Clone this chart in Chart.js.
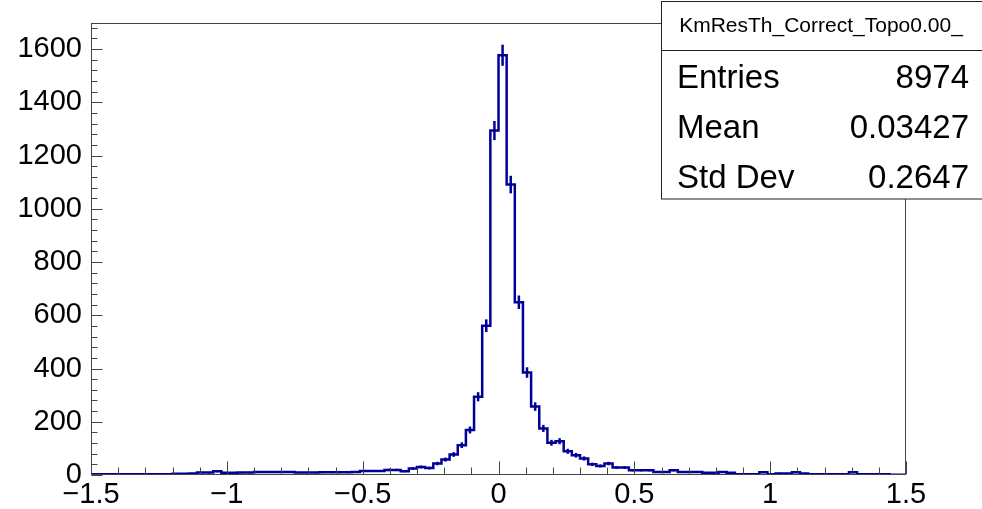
<!DOCTYPE html>
<html>
<head>
<meta charset="utf-8">
<script src="https://cdn.jsdelivr.net/npm/chart.js@4/dist/chart.umd.min.js"></script>
<style>
    html, body { margin: 0; padding: 0; background: #fff; }
    #wrap { width: 982px; height: 509px; }
</style>
</head>
<body>
<div id="wrap"><canvas id="chart"></canvas></div>
<script>
'use strict'
let xMin = -1.5,
    xMax = 1.5,
    binWidth = 0.03,
    yMax = 1698,
    // bin contents, 100 bins of 0.03 from -1.5 to 1.5
    counts = [
        3, 3, 3, 3, 3, 3, 3, 3, 3, 3,
        5, 5, 6, 9, 9, 14, 8, 8, 9, 9,
        11, 11, 11, 11, 11, 9, 9, 9, 10, 10,
        10, 10, 11, 15, 15, 15, 19, 19, 14, 24,
        30, 26, 43, 58, 77, 112, 169, 294, 561, 1294,
        1577, 1091, 649, 385, 257, 175, 121, 127, 89, 74,
        62, 40, 34, 43, 28, 28, 18, 18, 18, 11,
        11, 18, 11, 11, 11, 8, 8, 11, 8, 3,
        3, 3, 10, 3, 6, 6, 10, 6, 3, 3,
        3, 3, 3, 10, 3, 3, 3, 3, 1, 1],
    xTicks = [-1.5, -1, -0.5, 0, 0.5, 1, 1.5],
    xTickLabels = ['\u22121.5', '\u22121', '\u22120.5', '0', '0.5', '1', '1.5'],
    yTicks = [0, 200, 400, 600, 800, 1000, 1200, 1400, 1600],
    yTickLabels = ['0', '200', '400', '600', '800', '1000', '1200', '1400', '1600'],
    statsTitle = 'KmResTh_Correct_Topo0.00_',
    statsNames = ['Entries', 'Mean', 'Std Dev'],
    statsValues = ['8974', '0.03427', '0.2647']

const lineColor = '#000099'
const fontName = '"Liberation Sans", Arial, Helvetica, sans-serif'

// step points at bin edges, last point closes the final bin
let points = counts.map((c, i) => ({x: xMin + i * binWidth, y: c}))
points.push({x: xMax, y: counts[counts.length - 1]})

let rootStyle = {
    id: 'rootStyle',
    afterDatasetsDraw(chart) {
        let ctx = chart.ctx,
            xs = chart.scales.x,
            ys = chart.scales.y
        // error bars
        ctx.save()
        ctx.strokeStyle = lineColor
        ctx.lineWidth = 2.5
        counts.forEach((c, i) => {
            let xc = xs.getPixelForValue(xMin + (i + 0.5) * binWidth),
                err = Math.sqrt(c)
            ctx.beginPath()
            ctx.moveTo(xc, ys.getPixelForValue(c - err))
            ctx.lineTo(xc, ys.getPixelForValue(c + err))
            ctx.stroke()
        })
        ctx.restore()
    },
    afterDraw(chart) {
        let ctx = chart.ctx,
            a = chart.chartArea,
            xs = chart.scales.x,
            ys = chart.scales.y
        ctx.save()
        ctx.strokeStyle = '#444'
        ctx.lineWidth = 1
        let L = Math.round(a.left) + 0.5,
            R = Math.round(a.right) - 0.5,
            T = Math.round(a.top) + 0.5,
            B = Math.round(a.bottom) - 0.5
        ctx.strokeRect(L, T, R - L, B - T)
        // x ticks: major every 0.5, minor every 0.1
        ctx.beginPath()
        for (let k = 0; k <= 30; k++) {
            let v = xMin + k * 0.1,
                px = Math.round(xs.getPixelForValue(v)) + 0.5,
                len = k % 5 === 0 ? 13 : 7
            ctx.moveTo(px, B)
            ctx.lineTo(px, B - len)
        }
        // y ticks: major every 200, minor every 40
        for (let v = 0; v <= yMax; v += 40) {
            let py = Math.round(ys.getPixelForValue(v)) + 0.5,
                len = v % 200 === 0 ? 11 : 6
            ctx.moveTo(L, py)
            ctx.lineTo(L + len, py)
        }
        ctx.stroke()

        // stats box
        let bx = 661.5, by = 1.5, bw = 330, bh = 197.5
        ctx.fillStyle = '#fff'
        ctx.fillRect(bx, by, bw, bh)
        ctx.strokeStyle = '#222'
        ctx.strokeRect(bx, by, bw, bh)
        ctx.beginPath()
        ctx.moveTo(bx, 50.5)
        ctx.lineTo(bx + bw, 50.5)
        ctx.stroke()
        ctx.fillStyle = '#000'
        ctx.textBaseline = 'alphabetic'
        ctx.font = '21px ' + fontName
        ctx.textAlign = 'center'
        ctx.fillText(statsTitle, 821, 32)
        ctx.font = '33px ' + fontName
        statsNames.forEach((name, i) => {
            let base = 88 + i * 50
            ctx.textAlign = 'left'
            ctx.fillText(name, 677, base)
            ctx.textAlign = 'right'
            ctx.fillText(statsValues[i], 969, base)
        })
        ctx.restore()
    }
}

let data = {
    datasets: [{
        label: 'KmResTh_Correct_Topo0.00_',
        data: points,
        stepped: 'before',
        borderColor: lineColor,
        borderWidth: 2.5,
        pointRadius: 0,
        fill: false
    }]
}

let config = {
    type: 'line',
    data: data,
    options: {
        responsive: false,
        animation: false,
        layout: {padding: {top: 23, right: 76, left: 0, bottom: 0}},
        plugins: {legend: {display: false}, tooltip: {enabled: false}},
        scales: {
            x: {
                type: 'linear',
                min: xMin,
                max: xMax,
                afterBuildTicks: (s) => { s.ticks = xTicks.map(v => ({value: v})) },
                afterFit: (s) => {
                    s.height = 34
                    s.paddingLeft = 0
                    s.paddingRight = 0
                },
                grid: {display: false, drawTicks: false},
                border: {display: false},
                ticks: {
                    padding: 3,
                    maxRotation: 0,
                    autoSkip: false,
                    color: '#000',
                    font: {family: fontName, size: 29},
                    callback: (v) => xTickLabels[xTicks.indexOf(v)]
                }
            },
            y: {
                min: 0,
                max: yMax,
                afterBuildTicks: (s) => { s.ticks = yTicks.map(v => ({value: v})) },
                afterFit: (s) => {
                    s.width = 91
                    s.paddingTop = 0
                    s.paddingBottom = 0
                },
                grid: {display: false, drawTicks: false},
                border: {display: false},
                ticks: {
                    padding: 9,
                    autoSkip: false,
                    color: '#000',
                    font: {family: fontName, size: 29},
                    callback: (v) => yTickLabels[yTicks.indexOf(v)]
                }
            }
        }
    },
    plugins: [rootStyle]
}

let canvas = document.getElementById('chart')
canvas.width = 982
canvas.height = 509
let myChart = new Chart(canvas, config)
</script>
</body>
</html>
